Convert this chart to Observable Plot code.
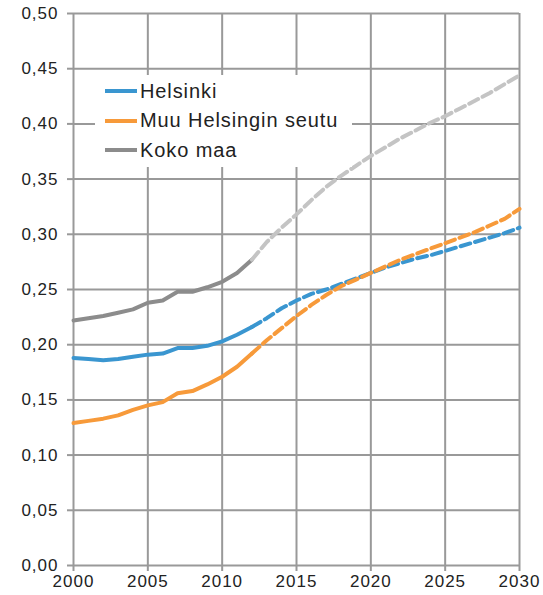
<!DOCTYPE html>
<html><head><meta charset="utf-8">
<script src="https://cdn.jsdelivr.net/npm/d3@7"></script>
<script src="https://cdn.jsdelivr.net/npm/@observablehq/plot@0.6"></script>
<style>
body{margin:0;background:#fff;font-family:"Liberation Sans",Arial,sans-serif;}
#wrap{position:relative;width:543px;height:595px;}
#legend{position:absolute;left:95px;top:75px;width:257px;height:92px;background:#fff;}
.item{position:absolute;left:10px;height:24px;display:flex;align-items:center;font-size:20px;letter-spacing:0.9px;color:#222;}
.sw{width:32px;height:4px;margin-right:3px;}
</style></head>
<body><div id="wrap"><div id="legend"></div></div>
<script>
const years = [2000,2001,2002,2003,2004,2005,2006,2007,2008,2009,2010,2011,2012,2013,2014,2015,2016,2017,2018,2019,2020,2021,2022,2023,2024,2025,2026,2027,2028,2029,2030];
const seriesNames = ["Helsinki","Muu Helsingin seutu","Koko maa"];
const helsinki = [0.188,0.187,0.186,0.187,0.189,0.191,0.192,0.197,0.197,0.199,0.203,0.209,0.216,0.224,0.233,0.240,0.246,0.250,0.255,0.260,0.265,0.270,0.274,0.278,0.281,0.285,0.289,0.293,0.297,0.301,0.306];
const muu = [0.129,0.131,0.133,0.136,0.141,0.145,0.148,0.156,0.158,0.164,0.171,0.180,0.192,0.204,0.215,0.226,0.236,0.245,0.253,0.259,0.265,0.271,0.277,0.282,0.287,0.292,0.297,0.302,0.308,0.314,0.323];
const kokoMaa = [0.222,0.224,0.226,0.229,0.232,0.238,0.240,0.248,0.248,0.252,0.257,0.265,0.277,0.293,0.306,0.318,0.331,0.343,0.353,0.362,0.371,0.379,0.387,0.394,0.401,0.407,0.414,0.421,0.428,0.436,0.444];
const projectionStart = 2012;
const xTicks = [2000,2005,2010,2015,2020,2025,2030];
const yTicks = [0,0.05,0.10,0.15,0.20,0.25,0.30,0.35,0.40,0.45,0.50];
const solidColors = ["#3a96d0","#f79a3a","#8c8c8c"];
const dashColors = ["#3a96d0","#f79a3a","#c4c4c4"];

const allValues = [helsinki, muu, kokoMaa];
const rows = [];
allValues.forEach((vals, i) => years.forEach((y, j) => rows.push({series: seriesNames[i], idx: i, year: y, value: vals[j]})));
const solid = rows.filter(d => d.year <= projectionStart);
const dashed = rows.filter(d => d.year >= projectionStart);

const gridStyle = {stroke: "#999", strokeOpacity: 1, strokeWidth: 2};
const chart = Plot.plot({
  width: 543, height: 595,
  marginLeft: 73, marginRight: 24, marginTop: 13, marginBottom: 30,
  style: {fontFamily: '"Liberation Sans", Arial, sans-serif', fontSize: "17px", color: "#222", background: "#fff", letterSpacing: "1px"},
  x: {domain: [2000, 2030], ticks: xTicks, tickFormat: d => String(d), label: null},
  y: {domain: [0, 0.5], ticks: yTicks, tickFormat: d => d.toFixed(2).replace(".", ","), label: null},
  marks: [
    Plot.gridX(xTicks, gridStyle),
    Plot.gridY(yTicks, gridStyle),
    Plot.axisX(xTicks, {tickSize: 6, tickPadding: 3, stroke: "#999", strokeWidth: 2, fill: "#222", tickFormat: d => String(d), label: null}),
    Plot.axisY(yTicks, {tickSize: 6, tickPadding: 9, stroke: "#999", strokeWidth: 2, fill: "#222", tickFormat: d => d.toFixed(2).replace(".", ","), label: null}),
    Plot.lineY(solid, {x: "year", y: "value", z: "series", stroke: d => solidColors[d.idx], strokeWidth: 4, curve: "linear"}),
    Plot.lineY(dashed, {x: "year", y: "value", z: "series", stroke: d => dashColors[d.idx], strokeWidth: 4, strokeDasharray: "10,5", curve: "linear"})
  ]
});
const wrap = document.getElementById("wrap");
wrap.insertBefore(chart, wrap.firstChild);
const legend = document.getElementById("legend");
seriesNames.forEach((name, i) => {
  const it = document.createElement("div");
  it.className = "item";
  it.style.top = (4 + i * 29.5) + "px";
  const sw = document.createElement("span");
  sw.className = "sw";
  sw.style.background = solidColors[i];
  it.appendChild(sw);
  it.appendChild(document.createTextNode(name));
  legend.appendChild(it);
});
</script></body></html>
